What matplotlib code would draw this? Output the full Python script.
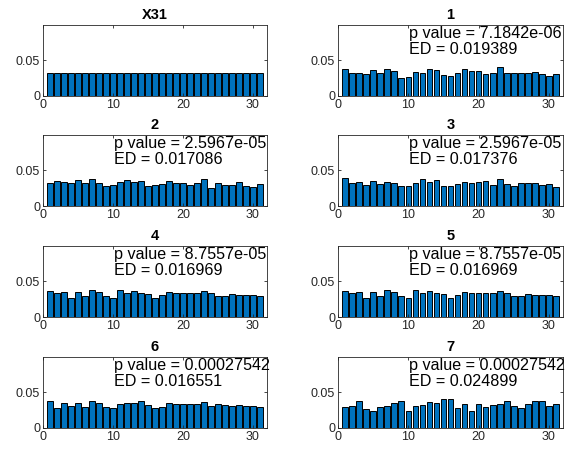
import numpy as np
import matplotlib.pyplot as plt

plt.rcParams['font.family'] = ['Liberation Sans', 'DejaVu Sans']

x = np.arange(1, 32)

titles = ['X31', '1', '2', '3', '4', '5', '6', '7']
p_values = [None, '7.1842e-06', '2.5967e-05', '2.5967e-05',
            '8.7557e-05', '8.7557e-05', '0.00027542', '0.00027542']
ed_values = [None, '0.019389', '0.017086', '0.017376',
             '0.016969', '0.016969', '0.016551', '0.024899']

h_x31 = [1 / 31] * 31
h1 = [0.0374, 0.0316, 0.0316, 0.0306, 0.0359, 0.0325, 0.0383, 0.0345, 0.0252, 0.0262,
      0.0330, 0.0325, 0.0374, 0.0364, 0.0291, 0.0272, 0.0320, 0.0383, 0.0354, 0.0345,
      0.0306, 0.0316, 0.0398, 0.0320, 0.0316, 0.0320, 0.0316, 0.0330, 0.0306, 0.0282, 0.0311]
h2 = [0.0316, 0.0345, 0.0330, 0.0316, 0.0364, 0.0316, 0.0374, 0.0325, 0.0282, 0.0296,
      0.0330, 0.0364, 0.0330, 0.0345, 0.0272, 0.0296, 0.0306, 0.0354, 0.0325, 0.0316,
      0.0296, 0.0316, 0.0374, 0.0248, 0.0316, 0.0296, 0.0296, 0.0330, 0.0282, 0.0262, 0.0301]
h3 = [0.0388, 0.0316, 0.0330, 0.0296, 0.0354, 0.0306, 0.0330, 0.0325, 0.0282, 0.0272,
      0.0320, 0.0374, 0.0335, 0.0364, 0.0282, 0.0282, 0.0301, 0.0330, 0.0316, 0.0330,
      0.0345, 0.0296, 0.0374, 0.0301, 0.0272, 0.0316, 0.0316, 0.0316, 0.0286, 0.0301, 0.0262]
h4 = [0.0369, 0.0332, 0.0355, 0.0271, 0.0355, 0.0294, 0.0374, 0.0355, 0.0294, 0.0271,
      0.0374, 0.0332, 0.0369, 0.0341, 0.0327, 0.0266, 0.0308, 0.0355, 0.0336, 0.0341,
      0.0341, 0.0336, 0.0369, 0.0336, 0.0294, 0.0299, 0.0322, 0.0304, 0.0304, 0.0304, 0.0294]
h5 = list(h4)
h6 = [0.0377, 0.0283, 0.0349, 0.0302, 0.0349, 0.0292, 0.0377, 0.0349, 0.0292, 0.0274,
      0.0340, 0.0349, 0.0349, 0.0377, 0.0316, 0.0283, 0.0292, 0.0349, 0.0335, 0.0340,
      0.0340, 0.0335, 0.0363, 0.0302, 0.0335, 0.0316, 0.0302, 0.0316, 0.0302, 0.0302, 0.0292]
h7 = [0.0297, 0.0312, 0.0377, 0.0269, 0.0241, 0.0288, 0.0302, 0.0349, 0.0382, 0.0231,
      0.0312, 0.0321, 0.0363, 0.0349, 0.0401, 0.0401, 0.0278, 0.0340, 0.0241, 0.0330,
      0.0288, 0.0316, 0.0330, 0.0377, 0.0302, 0.0278, 0.0340, 0.0377, 0.0382, 0.0312, 0.0340]

heights = [h_x31, h1, h2, h3, h4, h5, h6, h7]

W, H = 573, 449
fig = plt.figure(figsize=(W / 100, H / 100), dpi=100)

lefts = [43, 338]
widths = [224, 225]
tops = [25, 135, 246, 357]
ax_h = 71

for i in range(8):
    r, c = divmod(i, 2)
    ax = fig.add_axes([lefts[c] / W, 1 - (tops[r] + ax_h) / H, widths[c] / W, ax_h / H])
    ax.bar(x, heights[i], width=0.8, color='#0072BD', edgecolor='black', linewidth=0.7)
    ax.set_xlim(0, 32)
    ax.set_ylim(0, 0.099)
    ax.set_xticks([0, 10, 20, 30])
    ax.set_yticks([0, 0.05])
    ax.set_yticklabels(['0', '0.05'])
    ax.tick_params(direction='in', top=True, right=True, length=2.5, width=0.6,
                   labelsize=9, pad=2, colors='#262626')
    for s in ax.spines.values():
        s.set_linewidth(0.6)
        s.set_color('#262626')
    ax.set_title(titles[i], fontsize=10.5, fontweight='bold', pad=4)
    if p_values[i] is not None:
        ax.text(10.1, 0.076, 'p value = ' + p_values[i] + '\nED = ' + ed_values[i],
                fontsize=11.6, va='center', ha='left', linespacing=1.05, clip_on=False)

fig.savefig('out.png', dpi=100)
